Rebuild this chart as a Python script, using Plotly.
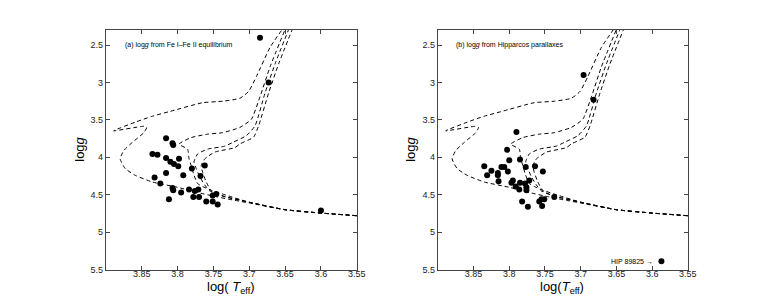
import plotly.graph_objects as go

# ---------------- data ----------------
# Isochrones (log Teff, log g), traced from the lower main sequence up the giant branch
iso1_logt = [3.55, 3.60, 3.65, 3.70, 3.72, 3.744, 3.772, 3.80, 3.835, 3.859, 3.873, 3.880, 3.875,
             3.863, 3.847, 3.843, 3.847, 3.889, 3.859, 3.835, 3.812, 3.765, 3.737, 3.713, 3.701,
             3.690, 3.671, 3.654]
iso1_logg = [4.78, 4.745, 4.70, 4.61, 4.575, 4.53, 4.47, 4.40, 4.33, 4.24, 4.15, 4.02, 3.91,
             3.80, 3.67, 3.60, 3.585, 3.645, 3.53, 3.45, 3.39, 3.27, 3.25, 3.21, 3.12,
             2.92, 2.53, 2.29]

iso2_logt = [3.55, 3.60, 3.65, 3.70, 3.734, 3.753, 3.765, 3.772, 3.777, 3.781, 3.784, 3.786,
             3.798, 3.781, 3.758, 3.737, 3.713, 3.697, 3.685, 3.671, 3.650]
iso2_logg = [4.78, 4.745, 4.70, 4.60, 4.50, 4.44, 4.39, 4.35, 4.24, 4.11, 4.02, 3.89,
             3.824, 3.736, 3.69, 3.67, 3.60, 3.49, 3.19, 2.79, 2.29]

iso3_logt = [3.55, 3.60, 3.65, 3.70, 3.735, 3.755, 3.762, 3.769, 3.774, 3.777, 3.772, 3.758,
             3.734, 3.723, 3.704, 3.692, 3.678, 3.664, 3.645]
iso3_logg = [4.78, 4.745, 4.70, 4.60, 4.52, 4.45, 4.37, 4.26, 4.15, 4.06, 3.955, 3.89,
             3.85, 3.80, 3.71, 3.58, 3.14, 2.75, 2.29]

iso4_logt = [3.55, 3.60, 3.65, 3.70, 3.735, 3.752, 3.760, 3.765, 3.767, 3.762, 3.748, 3.720,
             3.713, 3.694, 3.687, 3.673, 3.659, 3.640]
iso4_logg = [4.78, 4.745, 4.70, 4.60, 4.525, 4.46, 4.33, 4.20, 4.11, 4.02, 3.93, 3.87,
             3.82, 3.73, 3.58, 3.14, 2.75, 2.29]

# Panel (a): log g from Fe I - Fe II equilibrium
a_logt = [3.685, 3.673, 3.816, 3.807, 3.806, 3.835, 3.828, 3.816, 3.810, 3.805, 3.798, 3.799,
          3.780, 3.762, 3.816, 3.792, 3.768, 3.832, 3.824, 3.807, 3.806, 3.795, 3.784, 3.776,
          3.771, 3.812, 3.778, 3.770, 3.760, 3.751, 3.744, 3.751, 3.746, 3.600]
a_logg = [2.40, 3.00, 3.745, 3.81, 3.835, 3.955, 3.965, 4.01, 4.06, 4.09, 4.02, 4.12,
          4.15, 4.11, 4.21, 4.24, 4.25, 4.27, 4.35, 4.41, 4.44, 4.47, 4.43, 4.45,
          4.43, 4.56, 4.53, 4.53, 4.59, 4.59, 4.63, 4.51, 4.49, 4.71]

# Panel (b): log g from Hipparcos parallaxes
b_logt = [3.696, 3.682, 3.790, 3.803, 3.800, 3.785, 3.835, 3.825, 3.831, 3.816, 3.816, 3.811,
          3.807, 3.802, 3.815, 3.797, 3.795, 3.785, 3.791, 3.786, 3.778, 3.776, 3.776, 3.772,
          3.777, 3.764, 3.753, 3.782, 3.774, 3.758, 3.755, 3.751, 3.754, 3.737, 3.587]
b_logg = [2.90, 3.23, 3.66, 3.90, 4.04, 4.03, 4.12, 4.18, 4.24, 4.21, 4.24, 4.13,
          4.13, 4.19, 4.32, 4.34, 4.31, 4.34, 4.39, 4.43, 4.35, 4.44, 4.40, 4.31,
          4.13, 4.12, 4.19, 4.59, 4.66, 4.59, 4.56, 4.56, 4.65, 4.53, 5.39]

x_ticks = [3.85, 3.80, 3.75, 3.70, 3.65, 3.60, 3.55]
x_tick_text = ["3.85", "3.8", "3.75", "3.7", "3.65", "3.6", "3.55"]
y_ticks = [2.5, 3.0, 3.5, 4.0, 4.5, 5.0, 5.5]
y_tick_text = ["2.5", "3", "3.5", "4", "4.5", "5", "5.5"]

isochrones = [(iso1_logt, iso1_logg), (iso2_logt, iso2_logg),
              (iso3_logt, iso3_logg), (iso4_logt, iso4_logg)]

# ---------------- figure ----------------
fig = go.Figure()
FONT = "Liberation Sans, Arial, sans-serif"

for xa, ya in [("x", "y"), ("x2", "y2")]:
    for lt, lg in isochrones:
        fig.add_trace(go.Scatter(x=lt, y=lg, xaxis=xa, yaxis=ya, mode="lines",
                                 line=dict(color="black", width=1, dash="4px,3px",
                                           shape="spline", smoothing=0.5),
                                 hoverinfo="skip", showlegend=False))

fig.add_trace(go.Scatter(x=a_logt, y=a_logg, xaxis="x", yaxis="y", mode="markers",
                         marker=dict(color="black", size=6), showlegend=False))
fig.add_trace(go.Scatter(x=b_logt, y=b_logg, xaxis="x2", yaxis="y2", mode="markers",
                         marker=dict(color="black", size=6), showlegend=False))

axis_common = dict(showgrid=False, zeroline=False, showline=True, linecolor="#444",
                   linewidth=1, mirror="ticks", ticks="inside", ticklen=4,
                   tickcolor="#444", tickfont=dict(size=9, color="#222", family=FONT))

XR = [3.90, 3.55]
YR = [5.5, 2.293]
fig.update_layout(
    width=760, height=300,
    margin=dict(l=0, r=0, t=0, b=0),
    paper_bgcolor="white", plot_bgcolor="white",
    font=dict(family=FONT, color="black"),
    xaxis=dict(domain=[99/760, 353/760], range=XR, tickvals=x_ticks, ticktext=x_tick_text,
               anchor="y", ticklabelstandoff=-4, **axis_common),
    yaxis=dict(domain=[1-266/300, 1-22/300], range=YR, tickvals=y_ticks, ticktext=y_tick_text,
               anchor="x", **axis_common),
    xaxis2=dict(domain=[435/760, 688/760], range=XR, tickvals=x_ticks, ticktext=x_tick_text,
                anchor="y2", ticklabelstandoff=-4, **axis_common),
    yaxis2=dict(domain=[1-266/300, 1-22/300], range=YR, tickvals=y_ticks, ticktext=y_tick_text,
                anchor="x2", **axis_common),
)

TXT = dict(color="black", family=FONT)
ann = [
    dict(text="(a) log<i>g</i> from Fe I–Fe II equilibrium", x=3.876, y=2.5, xref="x", yref="y",
         xanchor="left", yanchor="middle", showarrow=False, font=dict(size=7, **TXT)),
    dict(text="(b) log<i>g</i> from Hipparcos parallaxes", x=3.877, y=2.5, xref="x2", yref="y2",
         xanchor="left", yanchor="middle", showarrow=False, font=dict(size=7, **TXT)),
    dict(text="HIP 89825 →", x=3.596, y=5.39, xref="x2", yref="y2",
         xanchor="right", yanchor="middle", showarrow=False, font=dict(size=7, **TXT)),
    dict(text="log( <i>T</i><sub>eff</sub>)", x=226/760, y=1-284/300, xref="paper", yref="paper",
         xanchor="center", yanchor="middle", showarrow=False, font=dict(size=13, **TXT)),
    dict(text="log(<i>T</i><sub>eff</sub>)", x=561/760, y=1-284/300, xref="paper", yref="paper",
         xanchor="center", yanchor="middle", showarrow=False, font=dict(size=13, **TXT)),
    dict(text="log<i>g</i>", x=72/760, y=1-144/300, xref="paper", yref="paper", textangle=-90,
         xanchor="center", yanchor="middle", showarrow=False, font=dict(size=13, **TXT)),
    dict(text="log<i>g</i>", x=407/760, y=1-144/300, xref="paper", yref="paper", textangle=-90,
         xanchor="center", yanchor="middle", showarrow=False, font=dict(size=13, **TXT)),
]
fig.update_layout(annotations=ann)

fig.write_html("out.html")
